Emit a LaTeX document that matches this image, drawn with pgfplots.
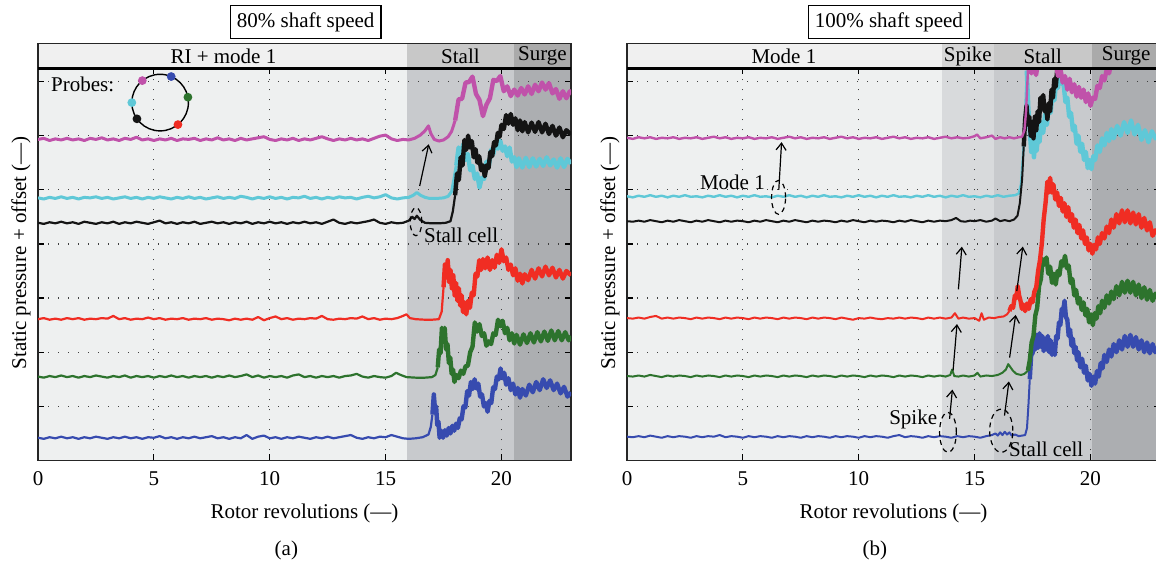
\documentclass[border=0pt]{standalone}
\usepackage{pgfplots}
\pgfplotsset{compat=1.18}
\usepackage{fontspec}
\setmainfont{Liberation Serif}
\usetikzlibrary{arrows.meta}
\definecolor{cMag}{RGB}{192,82,170}
\definecolor{cCya}{RGB}{95,200,215}
\definecolor{cBlk}{RGB}{20,20,20}
\definecolor{cRed}{RGB}{240,45,35}
\definecolor{cGrn}{RGB}{45,115,45}
\definecolor{cBlu}{RGB}{55,75,175}
\definecolor{bgLight}{RGB}{238,240,240}
\definecolor{bgSpike}{RGB}{216,218,220}
\definecolor{bgStall}{RGB}{200,202,205}
\definecolor{bgSurge}{RGB}{172,174,177}
\definecolor{hdLight}{RGB}{240,240,240}
\definecolor{hdSpike}{RGB}{214,214,214}
\definecolor{hdStall}{RGB}{200,200,200}
\definecolor{hdSurge}{RGB}{170,170,170}
\newcommand{\fs}{\fontsize{10.5}{12.6}\selectfont}
\pgfplotsset{
  panel/.style={
    scale only axis, width=266.5pt, height=196pt, anchor=south west,
    xmin=0, xmax=23, ymin=0, ymax=7.24,
    xtick={0,5,10,15,20}, ytick={1,2,3,4,5,6,7}, yticklabels={},
    tick align=inside, major tick length=3pt,
    tick style={black, line width=0.6pt},
    xmajorgrids, ymajorgrids,
    major grid style={black!75, line width=0.6pt, dash pattern=on 0.6pt off 4.4pt},
    axis line style={black!85, line width=0.9pt},
    axis background/.style={fill=bgLight},
    set layers, clip mode=individual,
    /pgf/number format/assume math mode=true,
    tick label style={font=\fs},
    xticklabel style={yshift=-2pt},
    label style={font=\fs},
    xlabel={Rotor revolutions (—)},
    ylabel={Static pressure + offset (—)},
    xlabel style={at={(axis description cs:0.5,-0.134)}, anchor=center},
    ylabel style={at={(axis description cs:-0.032,0.53)}, anchor=center},
    every axis plot/.append style={line join=round},
  },
  pre/.style={line width=1.1pt},
  post/.style={line width=2.2pt},
}
\tikzset{
  arr/.style={-{Straight Barb[length=3.5pt,width=5pt]}, line width=0.6pt},
  ell/.style={line width=0.6pt, dash pattern=on 2.5pt off 2pt},
}
\begin{document}
\begin{tikzpicture}[font=\fs]
% ================= (a) =================
\begin{axis}[panel, at={(19pt,53.25pt)}]
\begin{pgfonlayer}{axis background}
\fill[bgStall] (axis cs:15.94,0) rectangle (axis cs:20.52,7.24);
\fill[bgSurge] (axis cs:20.52,0) rectangle (axis cs:23,7.24);
\end{pgfonlayer}
% blue
\addplot[cBlu, pre] coordinates {(0,0.42)(0.25,0.40)(0.5,0.43)(0.75,0.41)(1,0.44)(1.25,0.41)(1.5,0.43)(1.75,0.40)(2,0.43)(2.25,0.41)(2.5,0.44)(2.75,0.42)(3,0.40)(3.25,0.43)(3.5,0.41)(3.75,0.44)(4,0.41)(4.25,0.43)(4.5,0.40)(4.75,0.43)(5,0.42)(5.25,0.45)(5.5,0.41)(5.75,0.43)(6,0.40)(6.25,0.43)(6.5,0.41)(6.75,0.44)(7,0.41)(7.25,0.43)(7.5,0.45)(7.75,0.41)(8,0.43)(8.25,0.40)(8.5,0.43)(8.75,0.41)(9,0.47)(9.25,0.40)(9.5,0.44)(9.75,0.46)(10,0.41)(10.25,0.43)(10.5,0.40)(10.75,0.43)(11,0.41)(11.25,0.44)(11.5,0.42)(11.75,0.40)(12,0.43)(12.25,0.41)(12.5,0.44)(12.75,0.41)(13,0.43)(13.25,0.45)(13.5,0.47)(13.75,0.42)(14,0.40)(14.25,0.43)(14.5,0.41)(14.75,0.44)(15,0.43)(15.25,0.47)(15.5,0.44)(15.75,0.41)(16,0.40)(16.3,0.41)(16.6,0.43)(16.85,0.48)(16.95,0.62)(17.02,0.85)};
\addplot[cBlu, post] coordinates {(17.02,0.85)(17.08,1.22)(17.13,0.95)(17.18,1.0)(17.23,0.65)(17.28,0.72)(17.33,0.42)(17.4,0.55)(17.48,0.42)(17.56,0.56)(17.64,0.46)(17.72,0.6)(17.8,0.5)(17.88,0.64)(17.96,0.55)(18.04,0.68)(18.12,0.6)(18.2,0.78)(18.28,0.76)(18.36,1.0)(18.44,0.98)(18.52,1.28)(18.6,1.2)(18.68,1.45)(18.76,1.32)(18.84,1.5)(18.92,1.33)(19.0,1.42)(19.08,1.18)(19.16,1.22)(19.24,1.0)(19.32,1.06)(19.4,0.9)(19.48,1.1)(19.56,1.06)(19.64,1.35)(19.72,1.32)(19.8,1.55)(19.88,1.5)(19.96,1.7)(20.04,1.52)(20.12,1.62)(20.2,1.4)(20.3,1.52)(20.4,1.3)(20.5,1.42)(20.6,1.22)(20.7,1.34)(20.8,1.16)(20.9,1.32)(21.05,1.2)(21.2,1.4)(21.35,1.26)(21.5,1.45)(21.65,1.3)(21.8,1.5)(21.95,1.34)(22.1,1.48)(22.25,1.3)(22.4,1.42)(22.55,1.24)(22.7,1.36)(22.85,1.18)(23,1.26)};
% green
\addplot[cGrn, pre] coordinates {(0,1.55)(0.25,1.53)(0.5,1.56)(0.75,1.54)(1,1.57)(1.25,1.54)(1.5,1.56)(1.75,1.53)(2,1.56)(2.25,1.54)(2.5,1.57)(2.75,1.55)(3,1.53)(3.25,1.56)(3.5,1.54)(3.75,1.57)(4,1.53)(4.25,1.56)(4.5,1.54)(4.75,1.56)(5,1.53)(5.25,1.56)(5.5,1.54)(5.75,1.57)(6,1.54)(6.25,1.56)(6.5,1.53)(6.75,1.56)(7,1.54)(7.25,1.56)(7.5,1.53)(7.75,1.56)(8,1.54)(8.25,1.57)(8.5,1.54)(8.75,1.56)(9,1.59)(9.25,1.54)(9.5,1.57)(9.75,1.53)(10,1.56)(10.25,1.54)(10.5,1.56)(10.75,1.53)(11,1.57)(11.25,1.59)(11.5,1.54)(11.75,1.56)(12,1.53)(12.25,1.56)(12.5,1.54)(12.75,1.56)(13,1.53)(13.25,1.56)(13.5,1.57)(13.75,1.6)(14,1.55)(14.25,1.53)(14.5,1.56)(14.75,1.54)(15,1.53)(15.25,1.56)(15.45,1.62)(15.65,1.58)(15.9,1.54)(16.3,1.53)(16.7,1.53)(17.0,1.54)(17.15,1.58)(17.25,1.72)};
\addplot[cGrn, post] coordinates {(17.25,1.72)(17.31,2.05)(17.37,1.98)(17.43,2.45)(17.49,2.3)(17.55,2.45)(17.61,2.05)(17.67,2.15)(17.73,1.8)(17.79,1.9)(17.85,1.6)(17.91,1.68)(17.97,1.45)(18.05,1.58)(18.15,1.52)(18.25,1.66)(18.35,1.6)(18.45,1.74)(18.55,1.75)(18.65,2.0)(18.75,2.1)(18.85,2.55)(18.95,2.38)(19.05,2.52)(19.15,2.3)(19.25,2.35)(19.35,2.12)(19.45,2.2)(19.55,2.15)(19.65,2.35)(19.75,2.32)(19.85,2.6)(19.95,2.48)(20.05,2.58)(20.15,2.35)(20.25,2.45)(20.35,2.22)(20.45,2.35)(20.55,2.16)(20.65,2.32)(20.8,2.14)(20.95,2.33)(21.1,2.17)(21.25,2.35)(21.4,2.18)(21.55,2.37)(21.7,2.2)(21.85,2.38)(22.0,2.21)(22.15,2.4)(22.3,2.22)(22.45,2.39)(22.6,2.22)(22.75,2.37)(22.9,2.22)(23,2.3)};
% red
\addplot[cRed, pre] coordinates {(0,2.61)(0.25,2.63)(0.5,2.60)(0.75,2.62)(1,2.60)(1.25,2.63)(1.5,2.61)(1.75,2.63)(2,2.60)(2.25,2.62)(2.5,2.61)(2.75,2.63)(3,2.62)(3.25,2.67)(3.5,2.61)(3.75,2.63)(4,2.60)(4.25,2.62)(4.5,2.61)(4.75,2.64)(5,2.61)(5.25,2.63)(5.5,2.60)(5.75,2.62)(6,2.61)(6.25,2.63)(6.5,2.60)(6.75,2.62)(7,2.61)(7.25,2.63)(7.5,2.60)(7.75,2.62)(8,2.61)(8.25,2.59)(8.5,2.62)(8.75,2.60)(9,2.62)(9.25,2.60)(9.5,2.65)(9.75,2.59)(10,2.63)(10.25,2.66)(10.5,2.61)(10.75,2.63)(11,2.60)(11.25,2.62)(11.5,2.61)(11.75,2.63)(12,2.62)(12.25,2.67)(12.5,2.61)(12.75,2.60)(13,2.62)(13.25,2.61)(13.5,2.63)(13.75,2.62)(14,2.66)(14.25,2.61)(14.5,2.63)(14.75,2.60)(15,2.62)(15.25,2.61)(15.5,2.63)(15.75,2.67)(15.9,2.70)(16.05,2.63)(16.3,2.61)(16.7,2.60)(17.0,2.60)(17.3,2.61)(17.42,2.75)(17.5,3.2)};
\addplot[cRed, post] coordinates {(17.5,3.2)(17.56,3.62)(17.62,3.38)(17.68,3.7)(17.74,3.3)(17.8,3.52)(17.86,3.18)(17.92,3.42)(17.98,3.05)(18.04,3.28)(18.1,2.95)(18.16,3.18)(18.22,2.86)(18.28,3.05)(18.34,2.74)(18.4,2.92)(18.48,2.7)(18.56,2.95)(18.64,2.82)(18.72,3.1)(18.8,3.05)(18.88,3.45)(18.96,3.4)(19.04,3.7)(19.12,3.52)(19.2,3.72)(19.3,3.55)(19.4,3.75)(19.5,3.52)(19.6,3.7)(19.7,3.56)(19.8,3.8)(19.9,3.65)(20.0,3.9)(20.1,3.68)(20.2,3.75)(20.3,3.52)(20.4,3.62)(20.5,3.42)(20.6,3.55)(20.7,3.32)(20.8,3.45)(20.9,3.27)(21.0,3.44)(21.15,3.33)(21.3,3.52)(21.45,3.36)(21.6,3.55)(21.75,3.4)(21.9,3.58)(22.05,3.42)(22.2,3.56)(22.35,3.38)(22.5,3.52)(22.65,3.36)(22.8,3.5)(23,3.42)};
% cyan
\addplot[cCya, pre, line width=1.5pt] coordinates {(0,4.85)(0.25,4.83)(0.5,4.86)(0.75,4.84)(1,4.87)(1.25,4.84)(1.5,4.86)(1.75,4.83)(2,4.86)(2.25,4.85)(2.5,4.87)(2.75,4.84)(3,4.86)(3.25,4.83)(3.5,4.85)(3.75,4.87)(4,4.84)(4.25,4.86)(4.5,4.83)(4.75,4.86)(5,4.84)(5.25,4.87)(5.5,4.85)(5.75,4.83)(6,4.86)(6.25,4.84)(6.5,4.87)(6.75,4.84)(7,4.86)(7.25,4.83)(7.5,4.85)(7.75,4.87)(8,4.84)(8.25,4.86)(8.5,4.84)(8.75,4.88)(9,4.86)(9.25,4.83)(9.5,4.86)(9.75,4.84)(10,4.87)(10.25,4.84)(10.5,4.86)(10.75,4.83)(11,4.86)(11.25,4.85)(11.5,4.88)(11.75,4.84)(12,4.86)(12.25,4.83)(12.5,4.86)(12.75,4.84)(13,4.87)(13.25,4.85)(13.5,4.86)(13.75,4.83)(14,4.86)(14.25,4.88)(14.5,4.85)(14.75,4.87)(15,4.91)(15.25,4.85)(15.5,4.83)(15.75,4.85)(16,4.86)(16.2,4.9)(16.35,4.95)(16.5,4.9)(16.7,4.86)(16.9,4.84)(17.2,4.84)(17.5,4.85)(17.7,4.88)(17.85,4.97)(17.95,5.2)(18.05,5.45)};
\addplot[cCya, post] coordinates {(18.05,5.45)(18.15,5.78)(18.25,5.65)(18.35,5.84)(18.45,5.55)(18.55,5.66)(18.65,5.36)(18.75,5.44)(18.85,5.2)(18.95,5.3)(19.05,5.04)(19.15,5.22)(19.25,5.2)(19.35,5.52)(19.45,5.42)(19.55,5.74)(19.65,5.66)(19.75,5.88)(19.85,5.76)(19.95,5.9)(20.05,5.72)(20.15,5.8)(20.25,5.62)(20.35,5.78)(20.45,5.52)(20.55,5.6)(20.65,5.42)(20.75,5.58)(20.9,5.41)(21.05,5.59)(21.2,5.42)(21.35,5.58)(21.5,5.43)(21.65,5.57)(21.8,5.44)(21.95,5.6)(22.1,5.45)(22.25,5.56)(22.4,5.41)(22.55,5.58)(22.7,5.42)(22.85,5.57)(23,5.48)};
% black
\addplot[cBlk, pre] coordinates {(0,4.39)(0.25,4.37)(0.5,4.40)(0.75,4.38)(1,4.41)(1.25,4.38)(1.5,4.40)(1.75,4.37)(2,4.41)(2.25,4.39)(2.5,4.37)(2.75,4.40)(3,4.38)(3.25,4.41)(3.5,4.37)(3.75,4.40)(4,4.38)(4.25,4.41)(4.5,4.39)(4.75,4.37)(5,4.40)(5.25,4.43)(5.5,4.38)(5.75,4.40)(6,4.37)(6.25,4.40)(6.5,4.38)(6.75,4.41)(7,4.37)(7.25,4.39)(7.5,4.41)(7.75,4.38)(8,4.40)(8.25,4.37)(8.5,4.40)(8.75,4.38)(9,4.41)(9.25,4.37)(9.5,4.40)(9.75,4.38)(10,4.41)(10.25,4.38)(10.5,4.40)(10.75,4.37)(11,4.40)(11.25,4.38)(11.5,4.41)(11.75,4.38)(12,4.40)(12.25,4.37)(12.5,4.41)(12.75,4.45)(13,4.39)(13.25,4.37)(13.5,4.40)(13.75,4.38)(14,4.40)(14.25,4.42)(14.5,4.45)(14.75,4.39)(15,4.37)(15.25,4.40)(15.5,4.38)(15.75,4.39)(16.0,4.43)(16.15,4.5)(16.25,4.46)(16.35,4.52)(16.5,4.44)(16.7,4.39)(17.0,4.38)(17.3,4.38)(17.6,4.39)(17.8,4.42)(17.9,4.6)(18.0,4.9)};
\addplot[cBlk, post] coordinates {(18.0,4.9)(18.08,5.3)(18.16,5.18)(18.24,5.6)(18.32,5.45)(18.4,5.92)(18.48,5.74)(18.56,6.0)(18.64,5.78)(18.72,5.9)(18.8,5.6)(18.88,5.75)(18.96,5.5)(19.04,5.62)(19.12,5.36)(19.2,5.45)(19.28,5.25)(19.36,5.45)(19.44,5.4)(19.52,5.7)(19.6,5.62)(19.68,5.88)(19.76,5.82)(19.84,6.05)(19.92,5.98)(20.0,6.2)(20.1,6.12)(20.2,6.38)(20.3,6.22)(20.4,6.4)(20.5,6.2)(20.6,6.32)(20.7,6.1)(20.8,6.28)(20.9,6.08)(21.0,6.25)(21.15,6.06)(21.3,6.24)(21.45,6.07)(21.6,6.25)(21.75,6.06)(21.9,6.22)(22.05,6.03)(22.2,6.18)(22.35,6.0)(22.5,6.15)(22.65,5.97)(22.8,6.1)(23,6.02)};
% magenta
\addplot[cMag, pre, line width=1.5pt] coordinates {(0,5.93)(0.25,5.95)(0.5,5.91)(0.75,5.94)(1,5.92)(1.25,5.95)(1.5,5.92)(1.75,5.94)(2,5.91)(2.25,5.95)(2.5,5.93)(2.75,5.96)(3,5.92)(3.25,5.94)(3.5,5.91)(3.75,5.95)(4,5.93)(4.25,5.97)(4.5,5.92)(4.75,5.94)(5,5.91)(5.25,5.94)(5.5,5.92)(5.75,5.95)(6,5.91)(6.25,5.94)(6.5,5.93)(6.75,5.95)(7,5.91)(7.25,5.94)(7.5,5.92)(7.75,5.96)(8,5.92)(8.25,5.94)(8.5,5.91)(8.75,5.95)(9,5.92)(9.25,5.94)(9.5,5.96)(9.75,5.98)(10,5.93)(10.25,5.91)(10.5,5.94)(10.75,5.92)(11,5.95)(11.25,5.91)(11.5,5.94)(11.75,5.92)(12,5.95)(12.25,5.98)(12.5,5.94)(12.75,5.91)(13,5.94)(13.25,5.92)(13.5,5.95)(13.75,5.92)(14,5.94)(14.25,5.91)(14.5,5.95)(14.75,5.99)(15,6.01)(15.25,5.94)(15.5,5.91)(15.75,5.93)(16,5.92)(16.25,5.95)(16.5,6.01)(16.7,6.09)(16.85,6.18)(16.95,6.04)(17.1,5.93)(17.3,5.9)(17.5,5.92)(17.7,5.98)(17.85,6.08)(18.0,6.28)};
\addplot[cMag, post] coordinates {(18.0,6.28)(18.15,6.67)(18.3,6.68)(18.45,6.98)(18.6,6.99)(18.75,7.09)(18.9,6.77)(19.05,6.66)(19.2,6.36)(19.35,6.57)(19.5,6.69)(19.65,7.03)(19.8,7.01)(19.95,7.10)(20.1,6.82)(20.25,6.91)(20.4,6.73)(20.55,6.85)(20.7,6.74)(20.85,6.88)(21.0,6.76)(21.15,6.91)(21.3,6.77)(21.45,6.94)(21.6,6.82)(21.75,6.98)(21.9,6.85)(22.05,6.97)(22.2,6.78)(22.35,6.86)(22.5,6.68)(22.65,6.82)(22.8,6.69)(22.95,6.82)(23,6.76)};
% header band
\fill[hdLight] (axis cs:0,7.24) rectangle (axis cs:15.94,7.70);
\fill[hdStall] (axis cs:15.94,7.24) rectangle (axis cs:20.52,7.70);
\fill[hdSurge] (axis cs:20.52,7.24) rectangle (axis cs:23,7.70);
\draw[black!85, line width=0.7pt] (axis cs:0,7.24) rectangle (axis cs:23,7.70);
\draw[black, line width=1.3pt] (axis cs:0,7.24) -- (axis cs:23,7.24);
\node at (axis cs:8.0,7.47) {RI + mode 1};
\node at (axis cs:18.23,7.47) {Stall};
\node at (axis cs:21.77,7.47) {Surge};
\node[draw, line width=0.6pt, inner xsep=3.3pt, inner ysep=0pt, minimum height=16.5pt] at (axis cs:11.55,8.10) {80\% shaft speed};
% probes
\node[anchor=west, inner sep=0pt] at (axis cs:0.55,6.95) {Probes:};
\draw[line width=0.7pt] (axis cs:5.27,6.61) circle [radius=14.15pt];
\fill[cMag] (axis cs:5.27,6.61) ++(129:14.15pt) circle [radius=2.2pt];
\fill[cBlu] (axis cs:5.27,6.61) ++(67:14.15pt) circle [radius=2.2pt];
\fill[cGrn] (axis cs:5.27,6.61) ++(11:14.15pt) circle [radius=2.2pt];
\fill[cRed] (axis cs:5.27,6.61) ++(-51:14.15pt) circle [radius=2.2pt];
\fill[cBlk] (axis cs:5.27,6.61) ++(-145:14.15pt) circle [radius=2.2pt];
\fill[cCya] (axis cs:5.27,6.61) ++(180:14.15pt) circle [radius=2.2pt];
% annotations
\draw[arr] (axis cs:16.47,5.07) -- (axis cs:16.86,5.84);
\draw[ell] (axis cs:16.31,4.41) ellipse [x radius=2.9pt, y radius=7pt];
\node at (axis cs:18.26,4.15) {Stall cell};
\node at (axis description cs:0.466,-0.23) {(a)};
\end{axis}
% ================= (b) =================
\begin{axis}[panel, at={(313.5pt,53.25pt)}]
\begin{pgfonlayer}{axis background}
\fill[bgSpike] (axis cs:13.6,0) rectangle (axis cs:15.82,7.24);
\fill[bgStall] (axis cs:15.82,0) rectangle (axis cs:20.05,7.24);
\fill[bgSurge] (axis cs:20.05,0) rectangle (axis cs:23,7.24);
\end{pgfonlayer}
% blue
\addplot[cBlu, pre, line width=1pt] coordinates {(0,0.44)(0.25,0.43)(0.5,0.45)(0.75,0.43)(1,0.46)(1.25,0.44)(1.5,0.42)(1.75,0.45)(2,0.43)(2.25,0.45)(2.5,0.44)(2.75,0.42)(3,0.45)(3.25,0.43)(3.5,0.45)(3.75,0.44)(4,0.47)(4.25,0.43)(4.5,0.45)(4.75,0.44)(5,0.42)(5.25,0.45)(5.5,0.43)(5.75,0.45)(6,0.44)(6.25,0.42)(6.5,0.45)(6.75,0.43)(7,0.45)(7.25,0.44)(7.5,0.42)(7.75,0.45)(8,0.43)(8.25,0.45)(8.5,0.44)(8.75,0.42)(9,0.45)(9.25,0.43)(9.5,0.45)(9.75,0.44)(10,0.42)(10.25,0.45)(10.5,0.43)(10.75,0.45)(11,0.44)(11.25,0.42)(11.5,0.45)(11.75,0.47)(12,0.43)(12.25,0.45)(12.5,0.44)(12.75,0.42)(13,0.45)(13.25,0.43)(13.5,0.45)(13.75,0.44)(14,0.42)(14.25,0.45)(14.5,0.43)(14.75,0.45)(15,0.44)(15.25,0.42)(15.5,0.45)(15.75,0.47)(15.9,0.5)(16.0,0.46)(16.1,0.52)(16.2,0.47)(16.3,0.53)(16.4,0.48)(16.5,0.52)(16.6,0.46)(16.75,0.48)(16.9,0.45)(17.05,0.46)(17.18,0.47)(17.26,0.6)(17.32,1.0)(17.38,1.5)};
\addplot[cBlu, post] coordinates {(17.38,1.5)(17.44,1.95)(17.5,1.98)(17.56,2.3)(17.62,2.05)(17.68,2.32)(17.74,2.08)(17.8,2.35)(17.86,2.1)(17.92,2.3)(17.98,2.02)(18.04,2.25)(18.1,2.05)(18.16,2.3)(18.22,2.0)(18.28,2.22)(18.34,1.95)(18.4,2.15)(18.46,1.95)(18.52,2.3)(18.58,2.25)(18.64,2.55)(18.7,2.5)(18.76,2.8)(18.82,2.75)(18.88,2.95)(18.94,2.65)(19.0,2.6)(19.06,2.3)(19.12,2.42)(19.18,2.12)(19.24,2.25)(19.3,1.98)(19.36,2.1)(19.42,1.85)(19.48,2.0)(19.56,1.72)(19.64,1.88)(19.72,1.62)(19.8,1.75)(19.88,1.48)(19.96,1.6)(20.04,1.38)(20.12,1.55)(20.2,1.42)(20.28,1.65)(20.36,1.55)(20.44,1.8)(20.52,1.7)(20.6,1.95)(20.7,1.82)(20.8,2.05)(20.9,1.92)(21.0,2.15)(21.12,2.0)(21.24,2.22)(21.36,2.05)(21.48,2.3)(21.6,2.1)(21.72,2.32)(21.84,2.1)(21.96,2.28)(22.08,2.05)(22.2,2.22)(22.32,2.0)(22.44,2.18)(22.56,1.98)(22.68,2.15)(22.8,2.0)(23,2.05)};
% green
\addplot[cGrn, pre, line width=1pt] coordinates {(0,1.56)(0.25,1.55)(0.5,1.57)(0.75,1.55)(1,1.58)(1.25,1.56)(1.5,1.54)(1.75,1.57)(2,1.55)(2.25,1.57)(2.5,1.56)(2.75,1.54)(3,1.57)(3.25,1.55)(3.5,1.57)(3.75,1.56)(4,1.54)(4.25,1.57)(4.5,1.55)(4.75,1.57)(5,1.56)(5.25,1.54)(5.5,1.57)(5.75,1.55)(6,1.57)(6.25,1.56)(6.5,1.54)(6.75,1.57)(7,1.55)(7.25,1.57)(7.5,1.56)(7.75,1.54)(8,1.57)(8.25,1.55)(8.5,1.57)(8.75,1.56)(9,1.54)(9.25,1.57)(9.5,1.55)(9.75,1.57)(10,1.56)(10.25,1.54)(10.5,1.57)(10.75,1.55)(11,1.57)(11.25,1.56)(11.5,1.54)(11.75,1.57)(12,1.55)(12.25,1.57)(12.5,1.56)(12.75,1.54)(13,1.57)(13.25,1.55)(13.5,1.57)(13.75,1.55)(13.95,1.58)(14.03,1.68)(14.12,1.56)(14.3,1.55)(14.5,1.57)(14.75,1.55)(15.0,1.57)(15.12,1.62)(15.25,1.55)(15.5,1.57)(15.75,1.56)(16.0,1.58)(16.2,1.62)(16.35,1.68)(16.45,1.78)(16.55,1.72)(16.65,1.66)(16.8,1.6)(17.0,1.58)(17.15,1.6)(17.3,1.66)};
\addplot[cGrn, post] coordinates {(17.3,1.66)(17.38,1.85)(17.46,2.18)(17.54,2.3)(17.62,2.68)(17.7,2.82)(17.78,3.22)(17.86,3.35)(17.94,3.72)(18.02,3.62)(18.1,3.75)(18.18,3.45)(18.26,3.58)(18.34,3.28)(18.42,3.45)(18.5,3.25)(18.58,3.5)(18.66,3.42)(18.74,3.68)(18.82,3.6)(18.9,3.78)(18.98,3.55)(19.06,3.6)(19.14,3.28)(19.22,3.35)(19.3,3.05)(19.38,3.15)(19.46,2.9)(19.54,3.0)(19.62,2.78)(19.7,2.92)(19.78,2.68)(19.86,2.8)(19.94,2.55)(20.02,2.7)(20.1,2.5)(20.18,2.72)(20.26,2.62)(20.34,2.85)(20.42,2.72)(20.5,2.95)(20.6,2.82)(20.7,3.05)(20.8,2.9)(20.9,3.12)(21.0,2.98)(21.12,3.22)(21.24,3.05)(21.36,3.3)(21.48,3.1)(21.6,3.32)(21.72,3.1)(21.84,3.3)(21.96,3.05)(22.08,3.25)(22.2,3.0)(22.32,3.2)(22.44,2.97)(22.56,3.15)(22.68,2.95)(22.8,3.08)(23,3.02)};
% red
\addplot[cRed, pre, line width=1pt] coordinates {(0,2.63)(0.25,2.62)(0.5,2.64)(0.75,2.62)(1,2.65)(1.25,2.67)(1.5,2.62)(1.75,2.64)(2,2.62)(2.25,2.64)(2.5,2.63)(2.75,2.61)(3,2.64)(3.25,2.62)(3.5,2.64)(3.75,2.63)(4,2.61)(4.25,2.64)(4.5,2.62)(4.75,2.64)(5,2.63)(5.25,2.61)(5.5,2.64)(5.75,2.62)(6,2.64)(6.25,2.63)(6.5,2.61)(6.75,2.64)(7,2.62)(7.25,2.64)(7.5,2.63)(7.75,2.61)(8,2.64)(8.25,2.62)(8.5,2.64)(8.75,2.63)(9,2.61)(9.25,2.64)(9.5,2.62)(9.75,2.60)(10,2.63)(10.25,2.62)(10.5,2.64)(10.75,2.62)(11,2.61)(11.25,2.63)(11.5,2.62)(11.75,2.64)(12,2.62)(12.25,2.64)(12.5,2.63)(12.75,2.61)(13,2.64)(13.25,2.62)(13.5,2.64)(13.75,2.62)(14,2.64)(14.15,2.72)(14.3,2.62)(14.5,2.64)(14.75,2.62)(15.0,2.63)(15.2,2.58)(15.3,2.72)(15.4,2.6)(15.6,2.64)(15.85,2.63)(16.05,2.65)(16.25,2.66)(16.4,2.7)(16.5,2.76)};
\addplot[cRed, post] coordinates {(16.5,2.76)(16.58,2.85)(16.66,2.82)(16.74,3.05)(16.8,3.0)(16.86,3.22)(16.92,3.05)(16.98,2.95)(17.04,2.8)(17.1,2.88)(17.18,2.76)(17.26,2.9)(17.34,2.8)(17.42,2.98)(17.5,2.92)(17.58,3.12)(17.66,3.2)(17.74,3.5)(17.82,3.7)(17.9,4.0)(17.98,4.45)(18.06,4.75)(18.14,5.15)(18.2,4.95)(18.26,5.22)(18.32,4.95)(18.4,5.1)(18.48,4.82)(18.56,4.95)(18.64,4.7)(18.72,4.85)(18.8,4.6)(18.88,4.75)(18.96,4.5)(19.04,4.68)(19.12,4.42)(19.2,4.55)(19.28,4.3)(19.36,4.45)(19.44,4.2)(19.52,4.35)(19.6,4.1)(19.68,4.25)(19.76,4.0)(19.84,4.12)(19.92,3.88)(20.0,4.0)(20.08,3.82)(20.16,3.98)(20.24,3.9)(20.32,4.12)(20.4,4.0)(20.5,4.2)(20.6,4.1)(20.7,4.32)(20.8,4.2)(20.9,4.45)(21.0,4.3)(21.12,4.55)(21.24,4.38)(21.36,4.62)(21.48,4.4)(21.6,4.62)(21.72,4.38)(21.84,4.58)(21.96,4.36)(22.08,4.55)(22.2,4.3)(22.32,4.48)(22.44,4.25)(22.56,4.4)(22.68,4.15)(22.8,4.25)(23,4.18)};
% cyan
\addplot[cCya, pre, line width=1.2pt] coordinates {(0,4.88)(0.25,4.86)(0.5,4.89)(0.75,4.87)(1,4.9)(1.25,4.87)(1.5,4.89)(1.75,4.86)(2,4.89)(2.25,4.87)(2.5,4.9)(2.75,4.87)(3,4.88)(3.25,4.86)(3.5,4.89)(3.75,4.87)(4,4.9)(4.25,4.87)(4.5,4.89)(4.75,4.86)(5,4.89)(5.25,4.87)(5.5,4.9)(5.75,4.87)(6,4.88)(6.25,4.86)(6.5,4.89)(6.75,4.87)(7,4.9)(7.25,4.87)(7.5,4.89)(7.75,4.86)(8,4.89)(8.25,4.87)(8.5,4.9)(8.75,4.87)(9,4.88)(9.25,4.86)(9.5,4.89)(9.75,4.87)(10,4.9)(10.25,4.87)(10.5,4.89)(10.75,4.86)(11,4.89)(11.25,4.87)(11.5,4.9)(11.75,4.87)(12,4.88)(12.25,4.86)(12.5,4.89)(12.75,4.87)(13,4.9)(13.25,4.87)(13.5,4.89)(13.75,4.86)(14,4.89)(14.25,4.87)(14.5,4.9)(14.75,4.87)(15,4.88)(15.25,4.86)(15.5,4.89)(15.75,4.87)(16,4.9)(16.25,4.87)(16.5,4.89)(16.75,4.9)(16.9,4.93)(17.0,5.1)(17.1,5.7)(17.18,6.4)(17.25,7.2)};
\addplot[cCya, post] coordinates {(17.25,7.2)(17.32,6.5)(17.38,6.1)(17.44,5.7)(17.5,5.95)(17.56,5.6)(17.62,5.9)(17.68,5.72)(17.74,6.05)(17.8,5.88)(17.88,6.25)(17.96,6.05)(18.04,6.4)(18.12,6.2)(18.2,6.58)(18.28,6.42)(18.36,6.8)(18.44,6.65)(18.52,7.0)(18.6,6.88)(18.68,7.2)(18.76,6.95)(18.84,6.95)(18.92,6.62)(19.0,6.7)(19.08,6.35)(19.16,6.42)(19.24,6.1)(19.32,6.18)(19.4,5.85)(19.48,6.0)(19.56,5.7)(19.64,5.85)(19.72,5.55)(19.8,5.7)(19.88,5.4)(19.96,5.55)(20.04,5.38)(20.12,5.62)(20.2,5.55)(20.3,5.82)(20.4,5.7)(20.5,5.95)(20.6,5.82)(20.7,6.05)(20.8,5.9)(20.9,6.12)(21.0,5.95)(21.15,6.18)(21.3,6.0)(21.45,6.25)(21.6,6.05)(21.75,6.28)(21.9,6.02)(22.05,6.2)(22.2,5.92)(22.35,6.1)(22.5,5.88)(22.65,6.08)(22.8,5.95)(23,6.0)};
% black
\addplot[cBlk, pre, line width=1pt] coordinates {(0,4.42)(0.25,4.41)(0.5,4.43)(0.75,4.41)(1,4.44)(1.25,4.42)(1.5,4.40)(1.75,4.43)(2,4.41)(2.25,4.44)(2.5,4.42)(2.75,4.40)(3,4.43)(3.25,4.41)(3.5,4.44)(3.75,4.42)(4,4.40)(4.25,4.43)(4.5,4.41)(4.75,4.43)(5,4.42)(5.25,4.40)(5.5,4.43)(5.75,4.41)(6,4.44)(6.25,4.42)(6.5,4.40)(6.75,4.43)(7,4.41)(7.25,4.44)(7.5,4.42)(7.75,4.40)(8,4.43)(8.25,4.41)(8.5,4.43)(8.75,4.42)(9,4.40)(9.25,4.43)(9.5,4.41)(9.75,4.44)(10,4.42)(10.25,4.40)(10.5,4.43)(10.75,4.41)(11,4.43)(11.25,4.42)(11.5,4.40)(11.75,4.43)(12,4.41)(12.25,4.44)(12.5,4.42)(12.75,4.40)(13,4.43)(13.25,4.41)(13.5,4.43)(13.75,4.42)(14,4.44)(14.2,4.48)(14.4,4.42)(14.6,4.41)(14.8,4.43)(15.0,4.42)(15.25,4.44)(15.5,4.41)(15.75,4.43)(15.9,4.47)(16.1,4.42)(16.3,4.44)(16.5,4.42)(16.7,4.45)(16.85,4.52)(16.95,4.75)(17.05,5.2)(17.12,5.8)};
\addplot[cBlk, post] coordinates {(17.12,5.8)(17.18,6.3)(17.24,6.55)(17.3,6.2)(17.36,6.35)(17.42,6.0)(17.48,6.25)(17.54,5.95)(17.6,6.35)(17.66,6.1)(17.72,6.45)(17.78,6.25)(17.84,6.7)(17.9,6.5)(17.96,6.75)(18.02,6.45)(18.08,6.55)(18.14,6.3)(18.2,6.6)(18.26,6.45)(18.32,6.85)(18.38,6.7)(18.44,7.05)(18.5,6.9)(18.56,7.2)(18.62,7.1)(18.7,7.5)(18.9,7.7)(20.0,7.8)(23,7.8)};
% magenta
\addplot[cMag, pre, line width=1.2pt] coordinates {(0,5.96)(0.25,5.94)(0.5,5.97)(0.75,5.95)(1,5.97)(1.25,5.94)(1.5,5.96)(1.75,5.95)(2,5.97)(2.25,5.94)(2.5,5.96)(2.75,5.95)(3,5.97)(3.25,5.94)(3.5,5.96)(3.75,5.98)(4,5.95)(4.25,5.97)(4.5,5.94)(4.75,5.96)(5,5.95)(5.25,5.97)(5.5,5.94)(5.75,5.96)(6,5.95)(6.25,5.97)(6.5,5.94)(6.75,5.96)(7,5.98)(7.25,5.95)(7.5,5.97)(7.75,5.94)(8,5.96)(8.25,5.95)(8.5,5.97)(8.75,5.94)(9,5.96)(9.25,5.98)(9.5,5.95)(9.75,5.97)(10,5.94)(10.25,5.96)(10.5,5.95)(10.75,5.97)(11,5.94)(11.25,5.96)(11.5,5.98)(11.75,5.95)(12,5.97)(12.25,5.94)(12.5,5.96)(12.75,5.95)(13,5.97)(13.25,5.94)(13.5,5.96)(13.75,5.98)(14,5.95)(14.25,5.97)(14.5,5.95)(14.75,5.96)(15,5.99)(15.1,6.02)(15.25,5.95)(15.5,5.97)(15.75,6.0)(15.9,5.94)(16.1,5.97)(16.3,5.95)(16.5,5.97)(16.7,5.95)(16.9,5.97)(17.05,5.98)(17.15,6.1)(17.22,6.45)(17.28,7.0)(17.32,7.4)};
\addplot[cMag, post] coordinates {(17.32,7.4)(17.45,7.15)(17.55,7.35)(17.65,7.12)(17.8,7.5)(18.0,7.6)(18.3,7.5)(18.5,7.35)(18.6,7.1)(18.7,7.25)(18.8,6.98)(18.9,7.1)(19.0,6.85)(19.1,7.05)(19.2,6.8)(19.3,6.95)(19.4,6.72)(19.5,6.9)(19.6,6.7)(19.7,6.85)(19.8,6.62)(19.9,6.78)(20.0,6.55)(20.1,6.7)(20.2,6.68)(20.3,6.92)(20.4,6.88)(20.5,7.1)(20.6,7.02)(20.7,7.22)(20.8,7.15)(20.9,7.35)(21.0,7.28)(21.2,7.45)(21.5,7.4)(22.0,7.5)(23,7.5)};
% header band
\fill[hdLight] (axis cs:0,7.24) rectangle (axis cs:13.6,7.70);
\fill[hdSpike] (axis cs:13.6,7.24) rectangle (axis cs:15.82,7.70);
\fill[hdStall] (axis cs:15.82,7.24) rectangle (axis cs:20.05,7.70);
\fill[hdSurge] (axis cs:20.05,7.24) rectangle (axis cs:23,7.70);
\draw[black!85, line width=0.7pt] (axis cs:0,7.24) rectangle (axis cs:23,7.70);
\draw[black, line width=1.3pt] (axis cs:0,7.24) -- (axis cs:23,7.24);
\node at (axis cs:6.77,7.47) {Mode 1};
\node at (axis cs:14.71,7.47) {Spike};
\node at (axis cs:17.94,7.47) {Stall};
\node at (axis cs:21.54,7.47) {Surge};
\node[draw, line width=0.6pt, inner xsep=3.3pt, inner ysep=0pt, minimum height=16.5pt] at (axis cs:11.3,8.10) {100\% shaft speed};
% annotations
\node at (axis cs:4.55,5.13) {Mode 1};
\draw[ell] (axis cs:6.54,4.86) ellipse [x radius=3.5pt, y radius=8.5pt];
\draw[arr] (axis cs:6.55,5.0) -- (axis cs:6.67,5.88);
\draw[ell] (axis cs:13.85,0.52) ellipse [x radius=4.2pt, y radius=10pt];
\draw[ell] (axis cs:16.15,0.55) ellipse [x radius=5.8pt, y radius=10.8pt];
\draw[arr] (axis cs:13.92,0.77) -- (axis cs:14.04,1.31);
\draw[arr] (axis cs:14.07,1.66) -- (axis cs:14.24,2.52);
\draw[arr] (axis cs:14.3,3.16) -- (axis cs:14.45,3.95);
\draw[arr] (axis cs:16.29,0.83) -- (axis cs:16.48,1.46);
\draw[arr] (axis cs:16.51,1.9) -- (axis cs:16.77,2.69);
\draw[arr] (axis cs:16.82,3.13) -- (axis cs:17.08,3.95);
\node at (axis cs:12.35,0.75) {Spike};
\node at (axis cs:18.09,0.21) {Stall cell};
\node at (axis description cs:0.465,-0.23) {(b)};
\end{axis}
\pgfresetboundingbox
\path[use as bounding box] (0,0) rectangle (578pt,283.5pt);
\end{tikzpicture}
\end{document}
